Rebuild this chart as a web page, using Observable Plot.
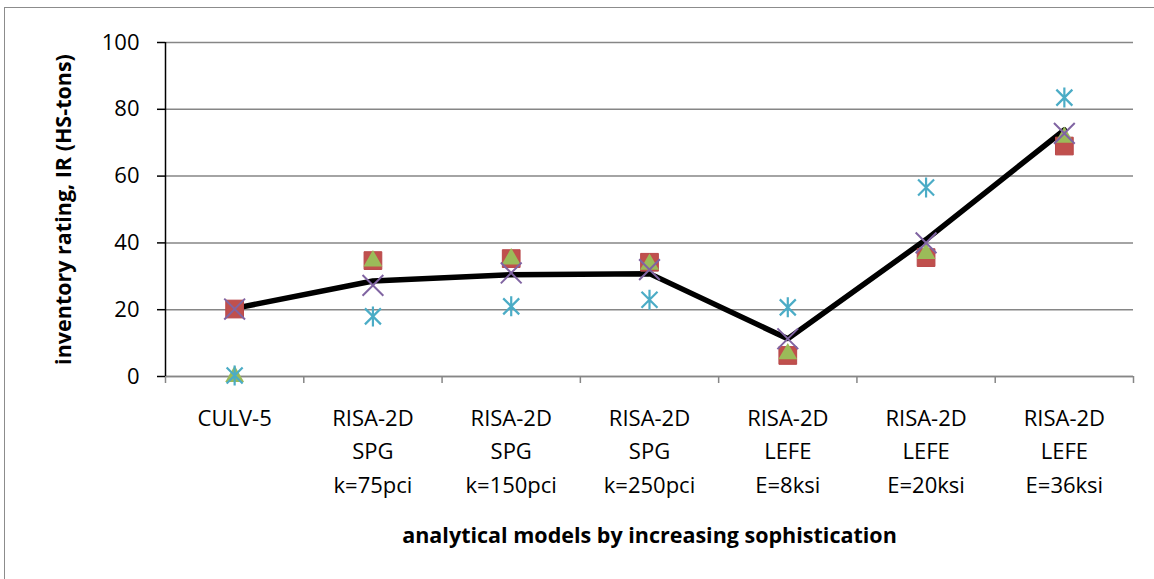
<!DOCTYPE html>
<html>
<head>
<meta charset="utf-8">
<script src="https://cdn.jsdelivr.net/npm/d3@7"></script>
<script src="https://cdn.jsdelivr.net/npm/@observablehq/plot@0.6"></script>
<style>
  html, body { margin: 0; padding: 0; background: #fff; }
  #frame { position: absolute; left: 4px; top: 7px; width: 1160px; height: 590px; border-left: 1.5px solid #8c8c8c; border-top: 1.5px solid #8c8c8c; }
  #chart { position: absolute; left: 0; top: 0; }
</style>
</head>
<body>
<div id="frame"></div>
<div id="chart"></div>
<script>
const categories = [
  "CULV-5",
  "RISA-2D\nSPG\nk=75pci",
  "RISA-2D\nSPG\nk=150pci",
  "RISA-2D\nSPG\nk=250pci",
  "RISA-2D\nLEFE\nE=8ksi",
  "RISA-2D\nLEFE\nE=20ksi",
  "RISA-2D\nLEFE\nE=36ksi"
];
const squareValues   = [20.2, 34.7, 35.3, 34.2, 6.3, 35.6, 69.0];
const triangleValues = [0.0, 34.6, 35.2, 33.6, 6.8, 36.8, 71.6];
const timesValues    = [20.2, 27.3, 31.0, 32.0, 11.3, 40.0, 72.8];
const asteriskValues = [0.3, 18.0, 21.0, 23.0, 20.7, 56.6, 83.5];
const lineValues     = [20.4, 28.6, 30.5, 30.8, 11.3, 41.0, 73.8];
const yTicks = [0, 20, 40, 60, 80, 100];

const rows = (vals) => vals.map((v, i) => ({pos: i + 0.5, v}));
const catRows = categories.map((c, i) => ({pos: i + 0.5, label: c}));
const edges = d3.range(categories.length + 1);

// Excel-style star: an X plus a vertical stroke
const excelStar = {
  draw(context, size) {
    const r = Math.sqrt(size / Math.PI);
    const d = r * 0.8;
    context.moveTo(-d, -d); context.lineTo(d, d);
    context.moveTo(-d, d); context.lineTo(d, -d);
    context.moveTo(0, -r); context.lineTo(0, r);
  }
};

const font = "'Open Sans', 'Liberation Sans', sans-serif";

const chart = Plot.plot({
  width: 1154,
  height: 579,
  marginLeft: 165,
  marginRight: 21,
  marginTop: 42,
  marginBottom: 203,
  style: {fontFamily: font, fontSize: "22px", color: "#000", background: "transparent"},
  x: {type: "linear", domain: [0, categories.length], axis: null},
  y: {type: "linear", domain: [0, 100], axis: null},
  marks: [
    Plot.gridY(yTicks, {stroke: "#868686", strokeOpacity: 1, strokeWidth: 1.5}),
    Plot.axisX(edges, {anchor: "bottom", tickSize: 7, stroke: "#868686", strokeWidth: 1.5, tickFormat: () => "", label: null}),
    Plot.ruleY([0], {stroke: "#868686", strokeWidth: 1.5}),
    Plot.axisY(yTicks, {anchor: "left", tickSize: 8, tickPadding: 18, stroke: "#000", strokeWidth: 1.5, fontSize: 22, label: null}),
    Plot.ruleX([0], {stroke: "#000", strokeWidth: 1.5}),
    Plot.text(catRows, {x: "pos", text: "label", frameAnchor: "bottom", dy: 25, lineAnchor: "top", lineHeight: 1.54, fontSize: 22, fill: "#000"}),
    Plot.line(rows(lineValues), {x: "pos", y: "v", stroke: "#000", strokeWidth: 5.5, strokeLinejoin: "miter"}),
    Plot.dot(rows(squareValues), {x: "pos", y: "v", symbol: "square", r: 10, fill: "#C0504D", stroke: "#b9484a", strokeWidth: 1}),
    Plot.dot(rows(triangleValues), {x: "pos", y: "v", symbol: "triangle", r: 7, fill: "#9BBB59", stroke: "none"}),
    Plot.dot(rows(timesValues), {x: "pos", y: "v", symbol: "times", r: 9.5, stroke: "#8064A2", strokeWidth: 2, fill: "none"}),
    Plot.dot(rows(asteriskValues), {x: "pos", y: "v", symbol: excelStar, r: 10, stroke: "#4BACC6", strokeWidth: 2.2, fill: "none"}),
    Plot.text(["inventory rating, IR (HS-tons)"], {frameAnchor: "left", textAnchor: "middle", dx: -101, rotate: -90, fontWeight: "bold", fontSize: 21.5, fill: "#000"}),
    Plot.text(["analytical models by increasing sophistication"], {frameAnchor: "bottom", dy: 166, fontWeight: "bold", fontSize: 21.5, fill: "#000"})
  ]
});
document.getElementById("chart").appendChild(chart);
</script>
</body>
</html>
